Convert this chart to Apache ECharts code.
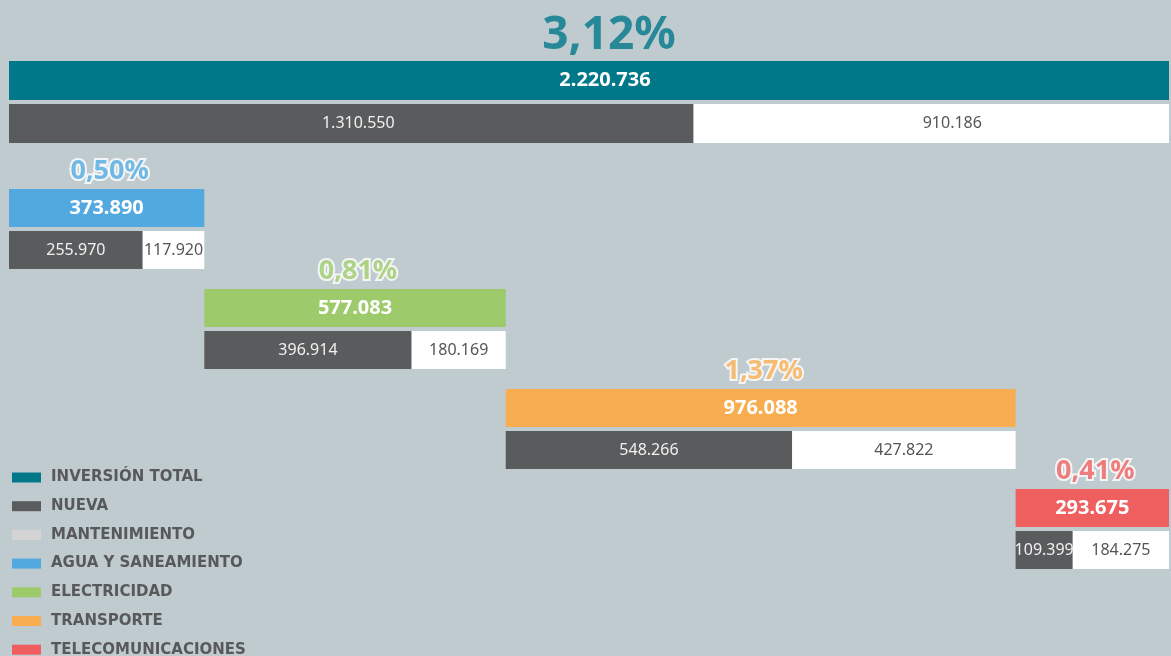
<!DOCTYPE html>
<html>
<head>
<meta charset="utf-8">
<script src="https://cdn.jsdelivr.net/npm/echarts@6/dist/echarts.min.js"></script>
<style>
  html, body { margin: 0; padding: 0; background: #c0cbd0; }
  #chart { width: 1171px; height: 656px; }
</style>
</head>
<body>
<div id="chart"></div>
<script>
// grupos: el primero es el total, luego los sectores
const groups = ["INVERSIÓN TOTAL", "AGUA Y SANEAMIENTO", "ELECTRICIDAD", "TRANSPORTE", "TELECOMUNICACIONES"];
const totals = [2220736, 373890, 577083, 976088, 293675];
const nueva = [1310550, 255970, 396914, 548266, 109399];
const mantenimiento = [910186, 117920, 180169, 427822, 184275];
const pctPib = [3.12, 0.50, 0.81, 1.37, 0.41];

const colors = ["#00788a", "#51a9e0", "#9dca6a", "#f8ae50", "#ef5f5f"];
const grayNueva = "#5a5b5d";
const whiteMant = "#ffffff";
const FONT = "Noto Sans";

const gridTops = [59, 187, 287, 387, 487];
const gridHeights = [86, 84, 84, 84, 84];

function fmtNum(n) {
  return String(n).replace(/\B(?=(\d{3})+(?!\d))/g, ".");
}
function fmtPct(p) {
  return p.toFixed(2).replace(".", ",") + "%";
}

const chart = echarts.init(document.getElementById("chart"));

let grid = [], xAxis = [], yAxis = [], series = [];
let offset = 0;

groups.forEach(function (name, i) {
  const off = i === 0 ? 0 : offset;
  if (i > 0) offset += totals[i];
  const bw = i === 0 ? 39 : 38;

  grid.push({ left: 9, right: 2, top: gridTops[i], height: gridHeights[i] });
  xAxis.push({ gridIndex: i, type: "value", min: 0, max: totals[0], show: false });
  yAxis.push({ gridIndex: i, type: "category", data: ["total", "split"], inverse: true, show: false });

  const stack = "g" + i;
  series.push({
    name: "base" + i, type: "bar", stack: stack, xAxisIndex: i, yAxisIndex: i,
    barWidth: bw, silent: true,
    itemStyle: { color: "transparent" },
    data: [off, off]
  });
  series.push({
    name: name, type: "bar", stack: stack, xAxisIndex: i, yAxisIndex: i,
    barWidth: bw,
    itemStyle: { color: colors[i] },
    label: {
      show: true, position: "inside", offset: [i === 0 ? 16 : 0, 0],
      color: "#fff", fontFamily: FONT, fontWeight: "bold", fontSize: 20,
      formatter: function (p) { return fmtNum(p.value); }
    },
    data: [totals[i], "-"]
  });
  series.push({
    name: "NUEVA", type: "bar", stack: stack, xAxisIndex: i, yAxisIndex: i,
    barWidth: bw,
    itemStyle: { color: grayNueva },
    label: {
      show: true, position: "inside", offset: [i === 0 ? 7 : 0, 0],
      color: "#f0f0f0", fontFamily: FONT, fontSize: 16,
      formatter: function (p) { return fmtNum(p.value); }
    },
    data: ["-", nueva[i]]
  });
  series.push({
    name: "MANTENIMIENTO", type: "bar", stack: stack, xAxisIndex: i, yAxisIndex: i,
    barWidth: bw,
    itemStyle: { color: whiteMant },
    label: {
      show: true, position: "inside", offset: [i === 0 ? 21 : 0, 0],
      color: "#555", fontFamily: FONT, fontSize: 16,
      formatter: function (p) { return fmtNum(p.value); }
    },
    data: ["-", mantenimiento[i]]
  });
  // porcentaje del PIB encima de cada barra
  series.push({
    name: "pct" + i, type: "scatter", xAxisIndex: i, yAxisIndex: i,
    symbolSize: 0, silent: true,
    label: {
      show: true, position: "top", distance: i === 0 ? 22 : 23,
      offset: [i === 0 ? 20 : 3, 0],
      color: colors[i], fontFamily: FONT, fontWeight: "bold",
      fontSize: i === 0 ? 46 : 27,
      textBorderColor: i === 0 ? "transparent" : "#fff",
      textBorderWidth: i === 0 ? 0 : 4,
      formatter: function () { return fmtPct(pctPib[i]); }
    },
    data: [[off + totals[i] / 2, "total"]]
  });
});

chart.setOption({
  backgroundColor: "#c0cbd0",
  animation: false,
  grid: grid,
  xAxis: xAxis,
  yAxis: yAxis,
  legend: {
    orient: "vertical", left: 12, top: 470, height: 260, padding: 0,
    icon: "rect", itemWidth: 29, itemHeight: 10, itemGap: 13.7,
    selectedMode: false,
    textStyle: {
      color: "#58595b", fontFamily: "DejaVu Sans", fontWeight: "bold",
      fontSize: 15, padding: [0, 0, 0, 5]
    },
    data: [
      { name: "INVERSIÓN TOTAL", itemStyle: { color: colors[0] } },
      { name: "NUEVA", itemStyle: { color: grayNueva } },
      { name: "MANTENIMIENTO", itemStyle: { color: "#d4d4d4" } },
      { name: "AGUA Y SANEAMIENTO", itemStyle: { color: colors[1] } },
      { name: "ELECTRICIDAD", itemStyle: { color: colors[2] } },
      { name: "TRANSPORTE", itemStyle: { color: colors[3] } },
      { name: "TELECOMUNICACIONES", itemStyle: { color: colors[4] } }
    ]
  },
  series: series
});
</script>
</body>
</html>
